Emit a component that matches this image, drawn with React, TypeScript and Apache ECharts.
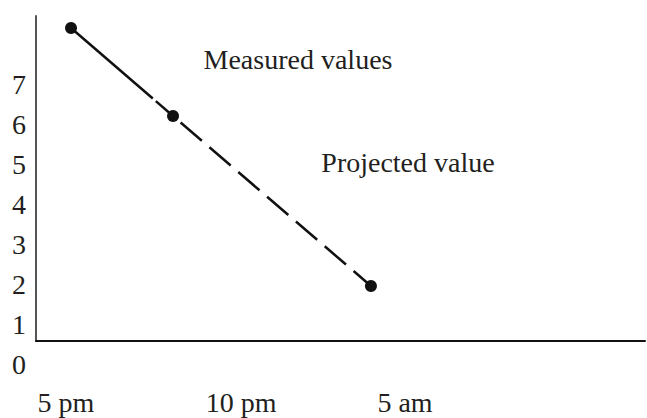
import React, { useEffect, useRef } from "react";
import * as echarts from "echarts";

// Data (x in arbitrary time units along the axis, y in axis units)
const xValues = [5.75, 22.5, 55];
const yValues = [7.825, 5.625, 1.375];
const measuredIdx = [0, 1];
const projectedIdx = [1, 2];

const xTickValues = [4.9, 33.7, 60.6];
const xTickLabels = ["5 pm", "10 pm", "5 am"];
const yTickValues = [0, 1, 2, 3, 4, 5, 6, 7];

const annotations = [
  { text: "Measured values", x: 298, y: 59 },
  { text: "Projected value", x: 408, y: 162 },
];

const FONT = "'Liberation Serif', 'Times New Roman', serif";
const TEXT_COLOR = "#231f20";
const FS = 28;

export default function App() {
  const ref = useRef<HTMLDivElement>(null);

  useEffect(() => {
    if (!ref.current) return;
    const chart = echarts.init(ref.current, null, { renderer: "svg" });

    const pts = (idx: number[]) => idx.map((i) => [xValues[i], yValues[i]]);

    chart.setOption({
      animation: false,
      backgroundColor: "#ffffff",
      grid: { left: 36, right: 2, top: 16, bottom: 77, containLabel: false },
      xAxis: {
        type: "value",
        min: 0,
        max: 100,
        axisLine: { show: true, lineStyle: { color: "#111", width: 2 } },
        axisTick: { show: false },
        splitLine: { show: false },
        axisLabel: {
          customValues: xTickValues,
          margin: 47,
          fontFamily: FONT,
          fontSize: FS,
          lineHeight: 28,
          color: TEXT_COLOR,
          showMinLabel: true,
          showMaxLabel: true,
          formatter: (v: number) => {
            let best = 0;
            let d = Infinity;
            xTickValues.forEach((t, i) => {
              if (Math.abs(t - v) < d) {
                d = Math.abs(t - v);
                best = i;
              }
            });
            return xTickLabels[best];
          },
        },
      },
      yAxis: {
        type: "value",
        min: 0,
        max: 8.125,
        axisLine: { show: true, lineStyle: { color: "#555", width: 2 } },
        axisTick: { show: false },
        splitLine: { show: false },
        axisLabel: {
          customValues: yTickValues,
          margin: 10,
          fontFamily: FONT,
          fontSize: FS,
          lineHeight: 28,
          padding: [9, 0, 0, 0],
          verticalAlign: "top",
          color: TEXT_COLOR,
          showMinLabel: true,
          showMaxLabel: true,
          hideOverlap: false,
        },
      },
      series: [
        {
          type: "line",
          data: pts(measuredIdx),
          showSymbol: false,
          lineStyle: { color: "#111", width: 2.5, type: [108, 4] },
          z: 2,
        },
        {
          type: "line",
          data: pts(projectedIdx),
          showSymbol: false,
          lineStyle: { color: "#111", width: 2.5, type: [28, 10], dashOffset: 28 },
          z: 2,
        },
        {
          type: "scatter",
          data: pts([0, 1, 2]),
          symbol: "circle",
          symbolSize: 12,
          itemStyle: { color: "#111", opacity: 1 },
          z: 3,
        },
      ],
      graphic: annotations.map((a) => ({
        type: "text",
        x: a.x,
        y: a.y,
        style: {
          text: a.text,
          fontFamily: FONT,
          fontSize: FS,
          fill: TEXT_COLOR,
          align: "center",
          verticalAlign: "middle",
          textAlign: "center",
          textVerticalAlign: "middle",
        },
      })),
    });

    return () => chart.dispose();
  }, []);

  return (
    <div
      ref={ref}
      style={{ position: "fixed", left: 0, top: 0, width: 647, height: 418 }}
    />
  );
}
